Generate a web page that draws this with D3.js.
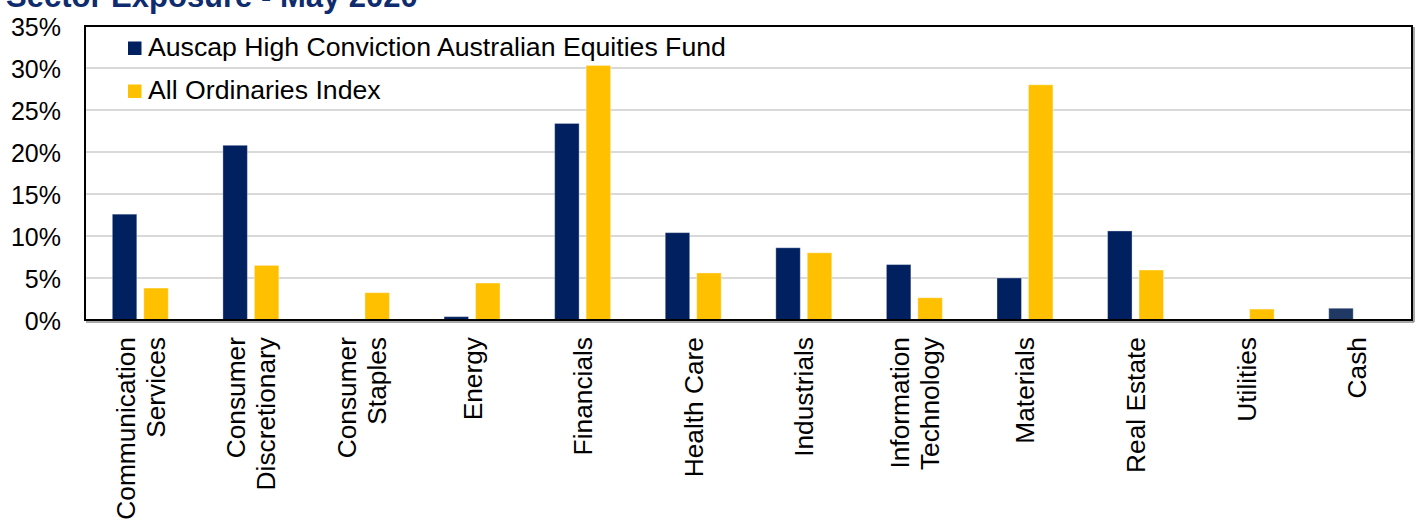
<!DOCTYPE html>
<html>
<head>
<meta charset="utf-8">
<script src="https://cdn.jsdelivr.net/npm/d3@7"></script>
<style>
  html, body { margin: 0; padding: 0; background: #fff; }
  svg { display: block; font-family: "Liberation Sans", Arial, sans-serif; }
</style>
</head>
<body>
<svg id="chart" width="1419" height="520"></svg>
<script>
// ---- Data ----
const categories = ["Communication Services", "Consumer Discretionary", "Consumer Staples", "Energy",
  "Financials", "Health Care", "Industrials", "Information Technology", "Materials",
  "Real Estate", "Utilities", "Cash"];
const tickLabels = [["Communication", "Services"], ["Consumer", "Discretionary"], ["Consumer", "Staples"],
  ["Energy"], ["Financials"], ["Health Care"], ["Industrials"], ["Information", "Technology"],
  ["Materials"], ["Real Estate"], ["Utilities"], ["Cash"]];
const seriesNames = ["Auscap High Conviction Australian Equities Fund", "All Ordinaries Index"];
const fundValues  = [12.6, 20.8, 0, 0.4, 23.4, 10.4, 8.6, 6.6, 5.0, 10.6, 0, 1.4];
const indexValues = [3.8, 6.5, 3.25, 4.4, 30.3, 5.6, 8.0, 2.65, 28.0, 5.95, 1.3, 0];
const yTicks = [0, 5, 10, 15, 20, 25, 30, 35];
const chartTitle = "Sector Exposure - May 2020";

// ---- Styles ----
const colors = ["#002060", "#FFC000"];
const cashColor = "#1F3864";

const svg = d3.select("#chart");
const pLeft = 85, pRight = 1412, pTop = 26, pBottom = 320;

const x0 = d3.scaleBand().domain(categories).range([pLeft, pRight])
  .paddingInner(0.494).paddingOuter(0.247);
const x1 = d3.scaleBand().domain([0, 1]).range([0, x0.bandwidth()]).paddingInner(0.222).paddingOuter(0);
const y = d3.scaleLinear().domain([0, 35]).range([pBottom, pTop]);

// Title (cut at top, as in the source image)
svg.append("text").attr("x", 6).attr("y", 7)
  .attr("font-size", 31).attr("font-weight", "bold").attr("fill", "#0E2C6E")
  .text(chartTitle);

// Gridlines
svg.append("g").selectAll("line").data(yTicks.filter(d => d > 0)).join("line")
  .attr("x1", pLeft).attr("x2", pRight).attr("y1", d => y(d)).attr("y2", d => y(d))
  .attr("stroke", "#D9D9D9").attr("stroke-width", 2);

// Y tick labels
const yAxis = d3.axisLeft(y).tickValues(yTicks).tickFormat(d => d + "%").tickSize(0).tickPadding(0);
const gy = svg.append("g").attr("transform", `translate(61,0)`).call(yAxis);
gy.select(".domain").remove();
gy.selectAll("text").attr("font-size", 25).attr("fill", "#000")
  .attr("font-family", "'Liberation Sans', Arial, sans-serif").attr("dy", "0.36em");

// Bars
const rows = categories.map((c, i) => ({ c, vals: [fundValues[i], indexValues[i]] }));
const groups = svg.append("g").selectAll("g").data(rows).join("g")
  .attr("transform", d => `translate(${x0(d.c)},0)`);
groups.selectAll("rect").data(d => d.vals.map((v, k) => ({ v, k, c: d.c }))).join("rect")
  .filter(d => d.v > 0)
  .attr("x", d => x1(d.k)).attr("width", x1.bandwidth())
  .attr("y", d => y(d.v)).attr("height", d => y(0) - y(d.v))
  .attr("fill", d => (d.c === "Cash" && d.k === 0) ? cashColor : colors[d.k])
  .attr("stroke", "#ffffff").attr("stroke-opacity", 0.35).attr("stroke-width", 1);

// Plot border with shadow
svg.append("line").attr("x1", pLeft + 1).attr("x2", pRight + 2).attr("y1", pBottom + 2).attr("y2", pBottom + 2)
  .attr("stroke", "#8c8c8c").attr("stroke-width", 1.5);
svg.append("line").attr("x1", pRight + 2).attr("x2", pRight + 2).attr("y1", pTop + 1).attr("y2", pBottom + 2)
  .attr("stroke", "#8c8c8c").attr("stroke-width", 1.5);
svg.append("rect").attr("x", pLeft).attr("y", pTop).attr("width", pRight - pLeft).attr("height", pBottom - pTop)
  .attr("fill", "none").attr("stroke", "#000").attr("stroke-width", 2);

// X tick labels (rotated, multi-line)
const lineH = 30, capHalf = 9.5;
const xl = svg.append("g").selectAll("text").data(categories).join("text")
  .attr("font-size", 26.3).attr("fill", "#000").attr("text-anchor", "end")
  .attr("transform", (d, i) => {
    const n = tickLabels[i].length;
    const cx = x0(d) + x0.bandwidth() / 2 - (n - 1) / 2 * lineH + capHalf;
    return `translate(${cx},337) rotate(-90)`;
  });
xl.each(function(d, i) {
  const t = d3.select(this);
  tickLabels[i].forEach((ln, j) => {
    t.append("tspan").attr("x", 0).attr("y", j * lineH).text(ln);
  });
});

// Legend
const lg = svg.append("g").selectAll("g").data(seriesNames).join("g")
  .attr("transform", (d, i) => `translate(128,${41.5 + i * 43})`);
lg.append("rect").attr("width", 13.5).attr("height", 13.5).attr("fill", (d, i) => colors[i]);
lg.append("text").attr("x", 20).attr("y", 14).attr("font-size", 26.67).attr("fill", "#000").text(d => d);
</script>
</body>
</html>
